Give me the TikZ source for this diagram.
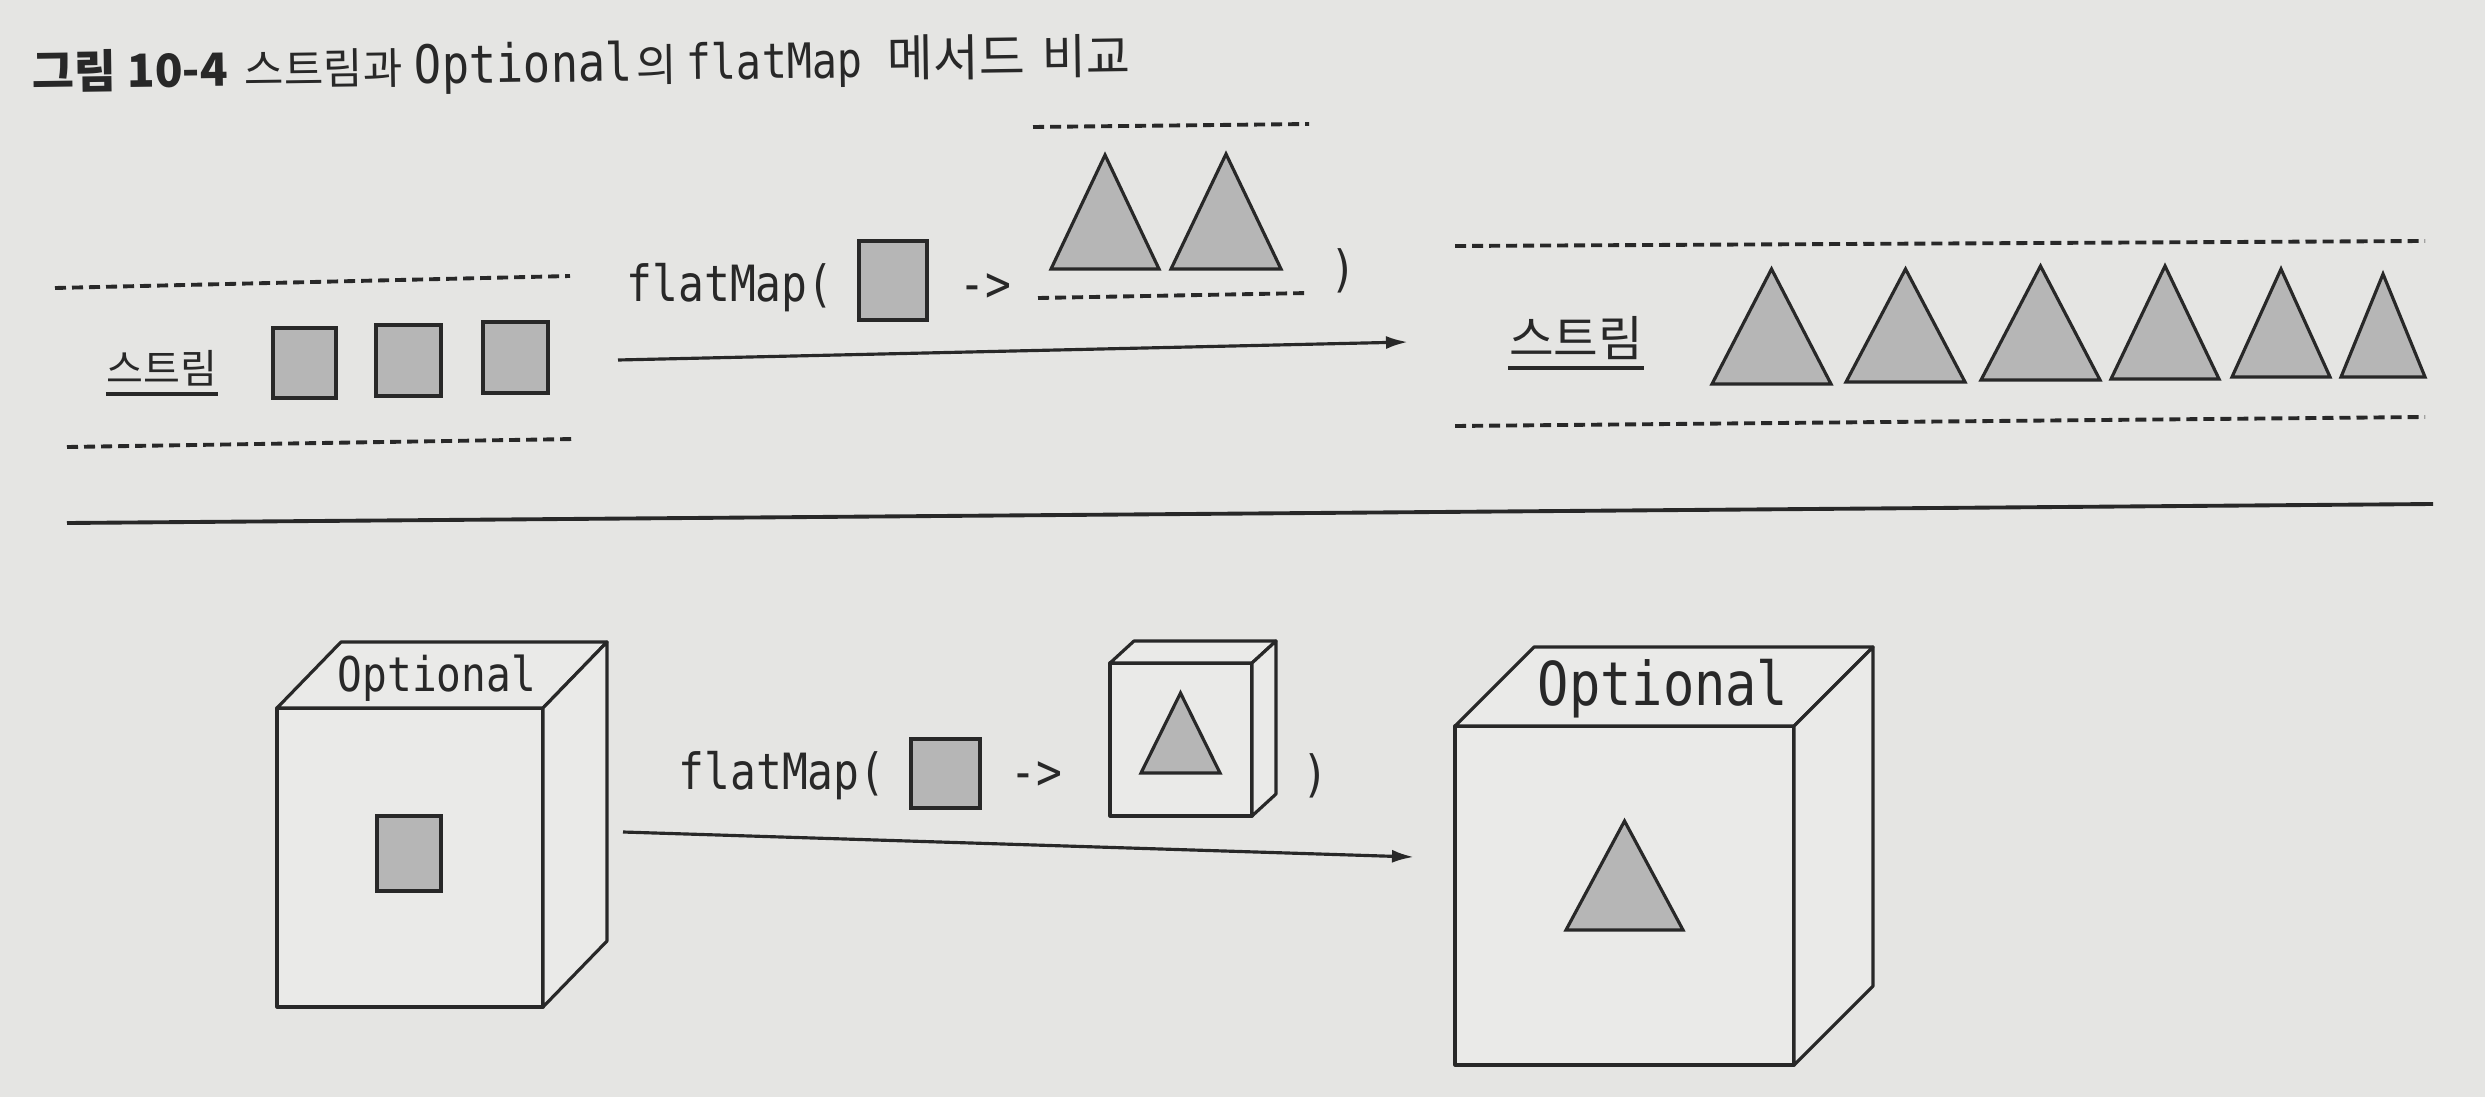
\documentclass[tikz,border=0pt]{standalone}
\usepackage{fontspec}
\usetikzlibrary{arrows.meta}
\newfontfamily\kr{Noto Sans CJK KR}
\newfontfamily\code[FakeStretch=0.86]{DejaVu Sans Mono}
\definecolor{bg}{RGB}{229,229,227}
\definecolor{ink}{RGB}{40,40,40}
\definecolor{shade}{RGB}{182,182,182}
\definecolor{face}{RGB}{234,234,232}
\newcommand\tri[4]{\filldraw[shp] (#1,#4) -- ({(#1+#2)/2},#3) -- (#2,#4) -- cycle;}
\newcommand\drawcube[6]{%
  \draw[cubeline] (#1,#2) rectangle (#3,#4);
  \draw[cubeline] (#1,#2) -- ++(#5,#6) -- ({#3+#5},{#2+#6}) -- (#3,#2) -- cycle;
  \draw[cubeline] (#3,#2) -- ({#3+#5},{#2+#6}) -- ({#3+#5},{#4+#6}) -- (#3,#4) -- cycle;
}
\begin{document}
\begin{tikzpicture}[x=0.01cm,y=-0.01cm,
  shp/.style={draw=ink,fill=shade,line width=0.9pt,line join=miter},
  dsh/.style={draw=ink,line width=1.1pt,dash pattern=on 0.11cm off 0.06cm},
  cubeline/.style={draw=ink,line width=0.9pt,fill=face,line join=round},
  conn/.style={draw=ink,line width=0.9pt,-{Latex[length=0.22cm,width=0.13cm]}},
  sep/.style={draw=ink,line width=1.1pt},
  txt/.style={text=ink,inner sep=0pt},
  ttl/.style={text=ink,inner sep=0pt,anchor=base west,rotate=0.8},
  uline/.style={draw=ink,line width=1.1pt},
]
\fill[bg] (0,0) rectangle (2485,1097);
\useasboundingbox (0,0) rectangle (2485,1097);

% title
\node[ttl] (t1) at (32,89)   {\kr\bfseries\fontsize{13}{15}\selectfont 그림 10-4};
\node[ttl] (t2) at (244,86)  {\kr\fontsize{12.2}{14}\selectfont 스트림과};
\node[ttl] (t3) at (414,84)  {\code\fontsize{15}{17}\selectfont Optional};
\node[ttl] (t4) at (636,82)  {\kr\fontsize{12.6}{14}\selectfont 의};
\node[ttl] (t5) at (686,80)  {\code\fontsize{13.8}{16}\selectfont flatMap};
\node[ttl] (t6) at (887,77)  {\kr\fontsize{14.2}{16}\selectfont 메서드};
\node[ttl] (t7) at (1042,75) {\kr\fontsize{13.6}{16}\selectfont 비교};

% ---------------- stream part ----------------
\draw[dsh] (55,288) -- (570,276);
\draw[dsh] (67,447) -- (574,439);
\node[txt] (st1) at (162,368) {\kr\fontsize{11.4}{13}\selectfont 스트림};
\draw[uline] ([yshift=-0.07cm]st1.south west) -- ([yshift=-0.07cm]st1.south east);
\filldraw[shp] (273,328) rectangle (336,398);
\filldraw[shp] (376,325) rectangle (441,396);
\filldraw[shp] (483,322) rectangle (548,393);

\node[txt,anchor=base west] (fm1) at (626,301) {\code\fontsize{14.2}{16}\selectfont flatMap(};
\filldraw[shp] (859,241) rectangle (927,320);
\node[txt,anchor=base west] (ar1) at (959,301) {\code\fontsize{14.2}{16}\selectfont ->};
\draw[dsh] (1033,127) -- (1309,124);
\tri{1051}{1159}{155}{269}
\tri{1171}{1281}{154}{269}
\draw[dsh] (1038,298) -- (1309,293);
\node[txt,anchor=base west] (cp1) at (1330,286) {\code\fontsize{14.2}{16}\selectfont )};

\coordinate (a1s) at (618,360);
\coordinate (a1e) at (1408,342);
\draw[conn] (a1s) -- (a1e);

\draw[dsh] (1455,246) -- (2425,241);
\draw[dsh] (1455,426) -- (2425,417);
\node[txt] (st2) at (1576,338) {\kr\fontsize{13.8}{16}\selectfont 스트림};
\draw[uline] ([yshift=-0.08cm]st2.south west) -- ([yshift=-0.08cm]st2.south east);
\tri{1712}{1831}{269}{384}
\tri{1846}{1965}{269}{382}
\tri{1981}{2100}{266}{380}
\tri{2111}{2219}{266}{379}
\tri{2232}{2330}{269}{377}
\tri{2341}{2425}{274}{377}

% separator
\draw[sep] (67,523) -- (2433,504);

% ---------------- optional part ----------------
\drawcube{277}{708}{543}{1007}{64}{-66}
\node[txt,anchor=base] (op1) at (437,691) {\code\fontsize{13.6}{16}\selectfont Optional};
\filldraw[shp] (377,816) rectangle (441,891);

\node[txt,anchor=base west] (fm2) at (678,789) {\code\fontsize{14.2}{16}\selectfont flatMap(};
\filldraw[shp] (911,739) rectangle (980,808);
\node[txt,anchor=base west] (ar2) at (1010,789) {\code\fontsize{14.2}{16}\selectfont ->};
\drawcube{1110}{663}{1252}{816}{24}{-22}
\tri{1141}{1220}{693}{773}
\node[txt,anchor=base west] (cp2) at (1302,791) {\code\fontsize{14.2}{16}\selectfont )};

\coordinate (a2s) at (623,832);
\coordinate (a2e) at (1414,857);
\draw[conn] (a2s) -- (a2e);

\drawcube{1455}{726}{1794}{1065}{79}{-79}
\node[txt,anchor=base] (op2) at (1663,705) {\code\fontsize{17.2}{20}\selectfont Optional};
\tri{1566}{1683}{821}{930}
\end{tikzpicture}
\end{document}
